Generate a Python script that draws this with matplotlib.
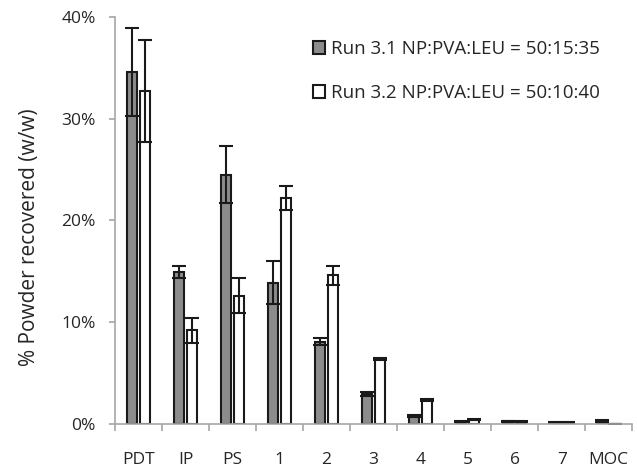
import matplotlib
import matplotlib.pyplot as plt
import numpy as np
from matplotlib.ticker import FuncFormatter

matplotlib.use("Agg")
plt.rcParams["font.family"] = ["Open Sans", "DejaVu Sans"]

categories = ["PDT", "IP", "PS", "1", "2", "3", "4", "5", "6", "7", "MOC"]
run31 = [34.6, 14.9, 24.5, 13.9, 8.1, 2.9, 0.8, 0.2, 0.25, 0.1, 0.3]
run31_err = [4.3, 0.6, 2.8, 2.1, 0.3, 0.2, 0.1, 0.05, 0.05, 0.05, 0.1]
run32 = [32.7, 9.2, 12.6, 22.2, 14.6, 6.4, 2.4, 0.4, 0.2, 0.1, 0.0]
run32_err = [5.0, 1.2, 1.7, 1.2, 0.9, 0.1, 0.1, 0.05, 0.05, 0.05, 0.0]
labels = ["Run 3.1 NP:PVA:LEU = 50:15:35", "Run 3.2 NP:PVA:LEU = 50:10:40"]

fig = plt.figure(figsize=(6.37, 4.69), dpi=100)
ax = fig.add_axes([0.1805, 0.096, 0.812, 0.868])

x = np.arange(len(categories))
w = 0.21
off = 0.14
err_kw = dict(ecolor="#1a1a1a", elinewidth=1.5, capsize=5, capthick=1.5)
ax.bar(x - off, run31, w, yerr=run31_err, color="#8c8c8c", edgecolor="#1a1a1a",
       linewidth=1.5, error_kw=err_kw, label=labels[0])
ax.bar(x + off, run32, w, yerr=run32_err, color="white", edgecolor="#1a1a1a",
       linewidth=1.5, error_kw=err_kw, label=labels[1])

ax.set_xlim(-0.5, len(categories) - 0.5)
ax.set_ylim(0, 40)
ax.set_yticks([0, 10, 20, 30, 40])
ax.yaxis.set_major_formatter(FuncFormatter(lambda v, p: f"{v:.0f}%"))
ax.set_xticks(x)
ax.set_xticklabels(categories)
ax.set_xticks(np.arange(-0.5, len(categories)), minor=True)
ax.tick_params(axis="x", which="major", length=0, pad=20, labelsize=12.5, colors="#262626")
ax.tick_params(axis="x", which="minor", length=5, color="#a6a6a6", width=1.2)
ax.tick_params(axis="y", length=4, color="#a6a6a6", width=1.2, labelsize=12.5,
               pad=10, labelcolor="#262626")

for s in ["top", "right"]:
    ax.spines[s].set_visible(False)
for s in ["left", "bottom"]:
    ax.spines[s].set_color("#a6a6a6")
    ax.spines[s].set_linewidth(1.2)

ax.set_ylabel("% Powder recovered (w/w)", fontsize=15, color="#262626")
ax.yaxis.set_label_coords(-0.145, 0.46)

ax.legend(loc="upper left", bbox_to_anchor=(0.35, 0.985), frameon=False,
          fontsize=13.5, handlelength=0.65, handleheight=0.65, handletextpad=0.3,
          labelspacing=1.4, labelcolor="#262626")

plt.savefig("out.png", dpi=100)
plt.close()
